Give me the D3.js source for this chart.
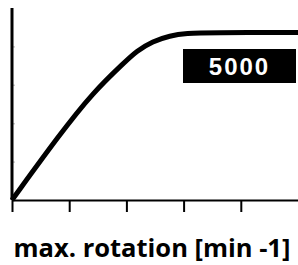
<!DOCTYPE html>
<html>
<head>
<meta charset="utf-8">
<script src="https://cdn.jsdelivr.net/npm/d3@7"></script>
<style>
  body { margin: 0; background: #fff; }
  svg { display: block; }
</style>
</head>
<body>
<div id="chart"></div>
<script>
// curve points (x in tick steps, y in tick steps)
const speedX = [0, 0.84, 1.41, 1.97, 2.18, 2.46, 2.76, 3.05, 3.46, 5.0];
const speedY = [0, 1.72, 2.79, 3.59, 3.88, 4.13, 4.28, 4.34, 4.36, 4.36];
const xTicks = [0, 1, 2, 3, 4];
const yTicks = [1, 2, 3, 4];
const maxLabel = "5000";
const axisTitle = "max. rotation [min -1]";

const width = 298;
const height = 265;
const margin = { top: 8, right: 0, bottom: 65, left: 12 };

const svg = d3.select("#chart")
  .append("svg")
  .attr("width", width)
  .attr("height", height);

const x = d3.scaleLinear()
  .domain([0, 5])
  .range([margin.left, width - margin.right]);

const y = d3.scaleLinear()
  .domain([0, 5])
  .range([height - margin.bottom, margin.top]);

const data = speedX.map((v, i) => ({ x: v, y: speedY[i] }));

// faint y ticks
const yAxis = svg.append("g")
  .attr("transform", `translate(${margin.left},0)`)
  .call(d3.axisLeft(y).tickValues(yTicks).tickSize(-3).tickFormat(""));
yAxis.select(".domain").remove();
yAxis.selectAll(".tick line").attr("stroke", "#ccc").attr("stroke-width", 1.5);

// y axis line
svg.append("line")
  .attr("x1", x(0)).attr("x2", x(0))
  .attr("y1", y(5)).attr("y2", y(0))
  .attr("stroke", "#000")
  .attr("stroke-width", 3);

// x axis
const xAxis = svg.append("g")
  .attr("transform", `translate(0,${y(0)})`)
  .call(d3.axisBottom(x).tickValues(xTicks).tickSize(12).tickSizeOuter(0).tickFormat(""));
xAxis.select(".domain").attr("stroke", "#000").attr("stroke-width", 2);
xAxis.selectAll(".tick line").attr("stroke", "#000").attr("stroke-width", 2);

// curve
const line = d3.line()
  .x(d => x(d.x))
  .y(d => y(d.y))
  .curve(d3.curveBasis);

svg.append("path")
  .datum(data)
  .attr("fill", "none")
  .attr("stroke", "#000")
  .attr("stroke-width", 5)
  .attr("d", line);

// value label box
svg.append("rect")
  .attr("x", 183)
  .attr("y", 49)
  .attr("width", 113)
  .attr("height", 34)
  .attr("fill", "#000");

svg.append("text")
  .attr("x", 239.5)
  .attr("y", 75)
  .attr("text-anchor", "middle")
  .attr("fill", "#fff")
  .style("font-family", "'Liberation Sans', Arial, sans-serif")
  .style("font-weight", "bold")
  .style("font-size", "24px")
  .style("letter-spacing", "2px")
  .text(maxLabel);

// axis title
svg.append("text")
  .attr("x", 152)
  .attr("y", 257)
  .attr("text-anchor", "middle")
  .attr("fill", "#000")
  .style("font-family", "'Open Sans', sans-serif")
  .style("font-weight", "bold")
  .style("font-size", "25.5px")
  .text(axisTitle);
</script>
</body>
</html>
